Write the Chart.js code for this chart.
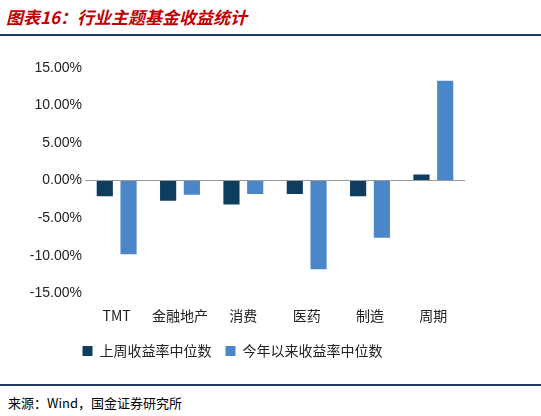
<!DOCTYPE html>
<html><head><meta charset="utf-8">
<script src="https://cdn.jsdelivr.net/npm/chart.js@4/dist/chart.umd.min.js"></script>
<style>
body{margin:0;width:541px;height:416px;background:#fff;position:relative;font-family:"Noto Sans CJK SC",sans-serif;overflow:hidden}
#t{position:absolute;left:6px;top:4px;font-size:17px;font-weight:bold;font-style:italic;color:#c00000}
#l1{position:absolute;left:0;top:34px;width:541px;height:2px;background:#1f3c64}
#l2{position:absolute;left:0;top:384px;width:541px;height:2px;background:#1f3c64}
#s{position:absolute;left:8px;top:393px;font-size:13px;color:#000}
#c{position:absolute;left:0;top:50px;width:541px;height:320px}
</style></head><body>
<div id="t">图表16：行业主题基金收益统计</div>
<div id="l1"></div>
<div id="c"><canvas id="cv"></canvas></div>
<div id="l2"></div>
<div id="s">来源：Wind，国金证券研究所</div>
<script>
const categories=["TMT","金融地产","消费","医药","制造","周期"];
const lastWeek=[-2.1,-2.7,-3.2,-1.8,-2.1,0.8];
const ytd=[-9.8,-1.9,-1.8,-11.8,-7.6,13.3];
const seriesNames=["上周收益率中位数","今年以来收益率中位数"];
new Chart(document.getElementById('cv'),{type:'bar',
data:{labels:categories,datasets:[
{label:seriesNames[0],data:lastWeek,backgroundColor:'#0e3d5e'},
{label:seriesNames[1],data:ytd,backgroundColor:'#4a86c8'}]},
options:{responsive:true,maintainAspectRatio:false,animation:false,
layout:{padding:{left:0,right:76,top:18,bottom:2}},
categoryPercentage:0.75,barPercentage:0.68,
plugins:{legend:{position:'bottom',labels:{boxWidth:10,boxHeight:10,font:{size:14,family:'"Noto Sans CJK SC"'},color:'#222',padding:14}},tooltip:{enabled:false}},
scales:{
x:{grid:{display:false},border:{display:false},ticks:{maxRotation:0,minRotation:0,autoSkip:false,font:{size:14,family:'"Noto Sans CJK SC"'},color:'#222',padding:6}},
y:{min:-15,max:15,ticks:{stepSize:5,font:{size:14,family:'"Liberation Sans"'},color:'#222',callback:v=>v.toFixed(2)+'%'},
afterFit:s=>{s.width=85},
border:{display:false},
grid:{drawTicks:false,color:c=>c.tick&&c.tick.value===0?'#999':'rgba(0,0,0,0)'}}
}}});
</script></body></html>
